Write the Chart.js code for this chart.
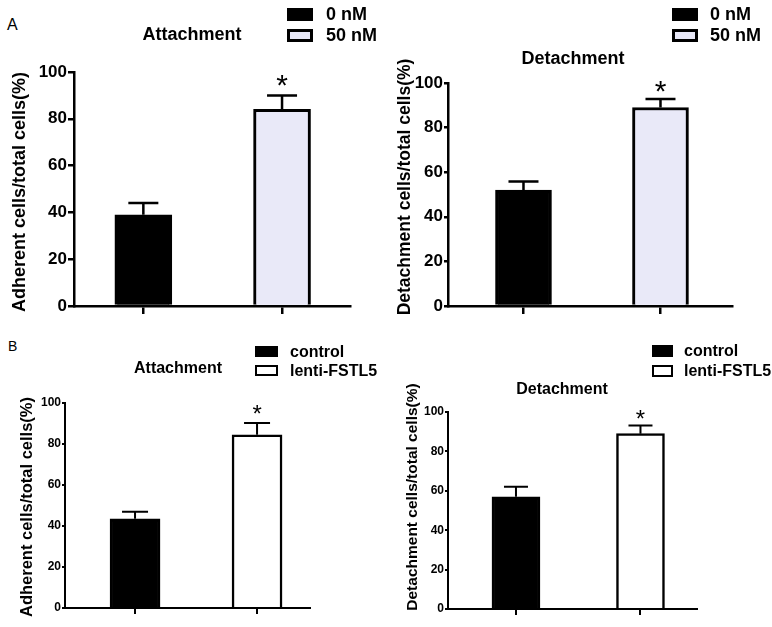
<!DOCTYPE html>
<html lang="en">
<head>
<meta charset="UTF-8">
<title>Attachment / Detachment</title>
<script src="https://cdn.jsdelivr.net/npm/chart.js@4.4.1/dist/chart.umd.min.js"></script>
<style>
  body { margin: 0; background: #fff; }
  #wrap { position: relative; width: 772px; height: 627px; font-family: 'Liberation Sans', Arial, sans-serif; }
  #wrap canvas { position: absolute; }
  .tag { position: absolute; line-height: 1; color: #000; }
</style>
</head>
<body>
<div id="wrap">
  <div class="tag" style="left:7px;top:17px;font-size:16px;">A</div>
  <div class="tag" style="left:8px;top:339px;font-size:14px;">B</div>
  <canvas id="c1" width="386" height="320" style="left:0;top:0"></canvas>
  <canvas id="c2" width="386" height="320" style="left:386px;top:0"></canvas>
  <canvas id="c3" width="386" height="307" style="left:0;top:320px"></canvas>
  <canvas id="c4" width="386" height="307" style="left:386px;top:320px"></canvas>
</div>
<script>
// data (mean, upper SEM)
const groupsA = ['0 nM', '50 nM'];
const groupsB = ['control', 'lenti-FSTL5'];
const attachA = [39, 84];
const attachAErr = [5, 6];
const detachA = [52, 89];
const detachAErr = [3.8, 3.8];
const attachB = [43.5, 84.5];
const attachBErr = [3.5, 5.8];
const detachB = [57, 89];
const detachBErr = [5, 4.2];
const marks = ['', '*'];
const yTicks = [0, 20, 40, 60, 80, 100];

const fillsA = ['#000000', '#e9e9f8'];
const fillsB = ['#000000', '#ffffff'];
const FONT = '"Liberation Sans", Arial, sans-serif';

Chart.defaults.font.family = FONT;
Chart.defaults.color = '#000';

// error bars, asterisks, axis label, title and legend
const decoPlugin = {
  id: 'deco',
  afterDatasetsDraw(chart, args, o) {
    const ctx = chart.ctx, ys = chart.scales.y;
    ctx.save();
    ctx.strokeStyle = '#000';
    ctx.fillStyle = '#000';
    chart.data.datasets.forEach((ds, i) => {
      const el = chart.getDatasetMeta(i).data[0];
      const top = ys.getPixelForValue(ds.data[0].y + ds.err);
      ctx.lineWidth = o.lw;
      ctx.beginPath();
      ctx.moveTo(el.x, el.y);
      ctx.lineTo(el.x, top);
      ctx.moveTo(el.x - o.cap / 2, top);
      ctx.lineTo(el.x + o.cap / 2, top);
      ctx.stroke();
      if (ds.mark) {
        ctx.font = o.starSize + 'px ' + FONT;
        ctx.textAlign = 'center';
        ctx.textBaseline = 'alphabetic';
        ctx.fillText(ds.mark, el.x, top - o.starGap + 0.57 * o.starSize);
      }
    });

    // rotated y label
    ctx.save();
    ctx.translate(o.labelX, o.labelY);
    ctx.rotate(-Math.PI / 2);
    ctx.font = 'bold ' + o.labelSize + 'px ' + FONT;
    ctx.textAlign = 'center';
    ctx.textBaseline = 'middle';
    ctx.fillText(o.yLabel, 0, 0);
    ctx.restore();

    ctx.font = 'bold ' + o.titleSize + 'px ' + FONT;
    ctx.textAlign = 'center';
    ctx.textBaseline = 'middle';
    ctx.fillText(o.title, o.titleX, o.titleY);

    ctx.font = 'bold ' + o.legSize + 'px ' + FONT;
    ctx.textAlign = 'left';
    chart.data.datasets.forEach((ds, i) => {
      const y = o.legY + i * o.legGap;
      ctx.fillStyle = ds.backgroundColor;
      ctx.fillRect(o.legX, y, o.boxW, o.boxH);
      ctx.lineWidth = o.boxLw;
      ctx.strokeRect(o.legX + o.boxLw / 2, y + o.boxLw / 2, o.boxW - o.boxLw, o.boxH - o.boxLw);
      ctx.fillStyle = '#000';
      ctx.fillText(ds.label, o.legX + o.boxW + o.textGap, y + o.boxH / 2 + 1);
    });
    ctx.restore();
  }
};

function makeChart(id, groups, vals, errs, fills, c) {
  const datasets = groups.map((g, i) => ({
    label: g,
    data: [{ x: i + 1, y: vals[i] }],
    err: errs[i],
    mark: marks[i],
    backgroundColor: fills[i],
    borderColor: '#000',
    borderWidth: c.barLw,
    borderSkipped: 'bottom',
    barThickness: c.barW,
    grouped: false
  }));
  return new Chart(document.getElementById(id), {
    type: 'bar',
    data: { datasets: datasets },
    options: {
      responsive: false,
      animation: false,
      devicePixelRatio: 1,
      layout: { padding: c.padding },
      plugins: {
        legend: { display: false },
        tooltip: { enabled: false },
        deco: c.deco
      },
      scales: {
        x: {
          type: 'linear',
          min: c.xMin,
          max: c.xMax,
          offset: false,
          ticks: { display: false },
          grid: { offset: false, drawOnChartArea: false, drawTicks: true, tickLength: c.xTickLen, color: '#000', lineWidth: c.lw },
          border: { color: '#000', width: c.lw },
          afterBuildTicks: s => { s.ticks = groups.map((g, i) => ({ value: i + 1 })); },
          afterFit: s => { s.height = c.xHeight; }
        },
        y: {
          min: 0,
          max: 100,
          ticks: { font: { size: c.tickSize, weight: 'bold' }, color: '#000', padding: 1 },
          grid: { drawOnChartArea: false, tickLength: c.yTickLen, color: '#000', lineWidth: c.lw },
          border: { color: '#000', width: c.lw },
          afterBuildTicks: s => { s.ticks = yTicks.map(v => ({ value: v })); },
          afterFit: s => { s.width = c.yWidth; }
        }
      }
    },
    plugins: [decoPlugin]
  });
}

makeChart('c1', groupsA, attachA, attachAErr, fillsA, {
  xMin: 0.5, xMax: 2.49, barW: 57,
  lw: 2.5, barLw: 3, tickSize: 17, yTickLen: 6, xTickLen: 8,
  yWidth: 74, xHeight: 14, padding: { left: 0, top: 72, right: 36, bottom: 0 },
  deco: { lw: 2.5, cap: 30, starSize: 30, starGap: 18,
          yLabel: 'Adherent cells/total cells(%)', labelX: 20, labelY: 192, labelSize: 18,
          title: 'Attachment', titleX: 192, titleY: 35, titleSize: 18,
          legX: 287, legY: 8, legGap: 21, boxW: 26, boxH: 13, boxLw: 3, textGap: 13, legSize: 18 }
});

makeChart('c2', groupsA, detachA, detachAErr, fillsA, {
  xMin: 0.449, xMax: 2.522, barW: 56,
  lw: 2.5, barLw: 3, tickSize: 17, yTickLen: 4, xTickLen: 8,
  yWidth: 62, xHeight: 14, padding: { left: 0, top: 83, right: 40, bottom: 0 },
  deco: { lw: 2.5, cap: 30, starSize: 30, starGap: 15,
          yLabel: 'Detachment cells/total cells(%)', labelX: 19, labelY: 187, labelSize: 17.5,
          title: 'Detachment', titleX: 187, titleY: 59, titleSize: 18,
          legX: 286, legY: 8, legGap: 21, boxW: 26, boxH: 13, boxLw: 3, textGap: 12, legSize: 18 }
});

makeChart('c3', groupsB, attachB, attachBErr, fillsB, {
  xMin: 0.426, xMax: 2.434, barW: 50,
  lw: 2, barLw: 2.5, tickSize: 12, yTickLen: 3, xTickLen: 6,
  yWidth: 65, xHeight: 10, padding: { left: 0, top: 83, right: 76, bottom: 9 },
  deco: { lw: 2, cap: 26, starSize: 24, starGap: 15,
          yLabel: 'Adherent cells/total cells(%)', labelX: 27, labelY: 187, labelSize: 16.5,
          title: 'Attachment', titleX: 178, titleY: 49, titleSize: 16,
          legX: 255, legY: 26, legGap: 19, boxW: 23, boxH: 11, boxLw: 2, textGap: 12, legSize: 16 }
});

makeChart('c4', groupsB, detachB, detachBErr, fillsB, {
  xMin: 0.454, xMax: 2.454, barW: 48,
  lw: 2, barLw: 2.5, tickSize: 12, yTickLen: 3, xTickLen: 6,
  yWidth: 62, xHeight: 10, padding: { left: 0, top: 92, right: 75, bottom: 8 },
  deco: { lw: 2, cap: 24, starSize: 24, starGap: 12,
          yLabel: 'Detachment cells/total cells(%)', labelX: 27, labelY: 177, labelSize: 15.5,
          title: 'Detachment', titleX: 176, titleY: 70, titleSize: 16,
          legX: 266, legY: 25, legGap: 20, boxW: 21, boxH: 12, boxLw: 2, textGap: 11, legSize: 16 }
});
</script>
</body>
</html>
